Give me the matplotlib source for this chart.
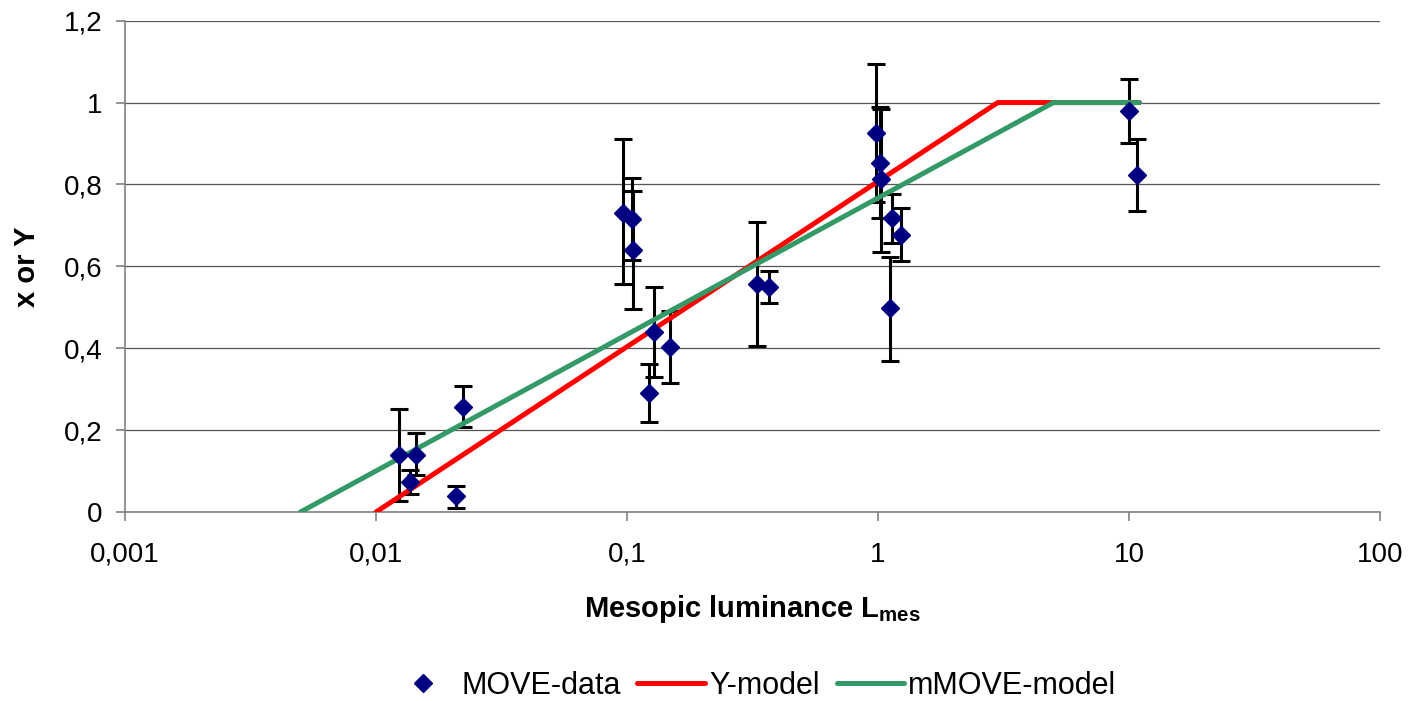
"""
MOVE data vs. Y-model and mMOVE-model over mesopic luminance
"""

import matplotlib as mpl
mpl.use('Agg')
import matplotlib.pyplot as plt
from matplotlib.ticker import FuncFormatter, FixedLocator, NullLocator

# ========== Data ==========
lum = [0.0123, 0.0144, 0.0136, 0.0223, 0.0209,
       0.0964, 0.105, 0.106, 0.128, 0.148, 0.122, 0.329, 0.367,
       0.978, 1.023, 1.03, 1.14, 1.23, 1.12,
       10.0, 10.76]
val = [0.14, 0.14, 0.074, 0.257, 0.039,
       0.731, 0.716, 0.64, 0.44, 0.403, 0.291, 0.557, 0.55,
       0.926, 0.853, 0.814, 0.718, 0.677, 0.498,
       0.98, 0.824]
err_lo = [0.112, 0.05, 0.03, 0.049, 0.029,
          0.174, 0.1, 0.144, 0.11, 0.088, 0.071, 0.151, 0.039,
          0.17, 0.135, 0.18, 0.061, 0.064, 0.129,
          0.079, 0.088]
err_hi = [0.112, 0.053, 0.029, 0.051, 0.025,
          0.181, 0.1, 0.145, 0.11, 0.088, 0.071, 0.152, 0.039,
          0.169, 0.137, 0.171, 0.059, 0.066, 0.125,
          0.078, 0.088]

ymodel_x = [0.01, 3.0, 11.0]
ymodel_y = [0.0, 1.0, 1.0]
mmove_x = [0.005, 5.0, 11.0]
mmove_y = [0.0, 1.0, 1.0]

x_ticks = [0.001, 0.01, 0.1, 1, 10, 100]
y_ticks = [0, 0.2, 0.4, 0.6, 0.8, 1.0, 1.2]

# ========== Plot ==========
plt.rcParams['font.family'] = ['Liberation Sans', 'DejaVu Sans']
plt.rcParams['mathtext.fontset'] = 'custom'
plt.rcParams['mathtext.rm'] = 'Liberation Sans'
plt.rcParams['mathtext.bf'] = 'Liberation Sans:bold'
axis_grey = '#808080'

fig = plt.figure(figsize=(14.1, 7.01), dpi=100)
ax = fig.add_axes([0.0887, 0.2696, 0.890, 0.7009])

ax.errorbar(lum, val, yerr=[err_lo, err_hi], fmt='none', ecolor='black',
            elinewidth=2.2, capsize=6.5, capthick=2.2, zorder=2)
ax.plot(ymodel_x, ymodel_y, color='#ff0000', linewidth=3.6,
        solid_capstyle='round', label='Y-model', zorder=3)
ax.plot(mmove_x, mmove_y, color='#339966', linewidth=3.6,
        solid_capstyle='round', label='mMOVE-model', zorder=4)
ax.plot(lum, val, linestyle='none', marker='D', markersize=9,
        color='#000080', label='MOVE-data', zorder=5)

ax.set_xscale('log')
ax.set_xlim(0.001, 100)
ax.set_ylim(0, 1.2)
ax.xaxis.set_major_locator(FixedLocator(x_ticks))
ax.xaxis.set_minor_locator(NullLocator())
ax.yaxis.set_major_locator(FixedLocator(y_ticks))

def comma_fmt(v, pos):
    s = ('%g' % v) if v >= 1 else ('%.3f' % v).rstrip('0')
    return s.replace('.', ',')

ax.xaxis.set_major_formatter(FuncFormatter(comma_fmt))
ax.yaxis.set_major_formatter(FuncFormatter(lambda v, p: ('%g' % v).replace('.', ',')))

ax.grid(True, axis='y', color='#555555', linewidth=0.9, zorder=0)
ax.set_axisbelow(True)
for side in ('top', 'right'):
    ax.spines[side].set_visible(False)
for side in ('left', 'bottom'):
    ax.spines[side].set_color(axis_grey)
    ax.spines[side].set_linewidth(1.2)
ax.tick_params(axis='both', direction='out', length=6.5, width=1.2,
               color=axis_grey, labelsize=20)
ax.tick_params(axis='x', pad=15)
ax.tick_params(axis='y', pad=10)

ax.set_ylabel('x or Y', fontsize=21, fontweight='bold', labelpad=16)
ax.set_xlabel(r'Mesopic luminance L$_{\mathbf{mes}}$', fontsize=21,
              fontweight='bold', labelpad=18)

handles, labels = ax.get_legend_handles_labels()
order = [2, 0, 1]
fig.legend([handles[i] for i in order], [labels[i] for i in order],
           loc='center', bbox_to_anchor=(0.534, 0.0214), ncol=3,
           frameon=False, fontsize=22, handlelength=2.2, handletextpad=0.15,
           columnspacing=0.55, borderaxespad=0, borderpad=0)

plt.savefig('out.png', dpi=fig.dpi)
